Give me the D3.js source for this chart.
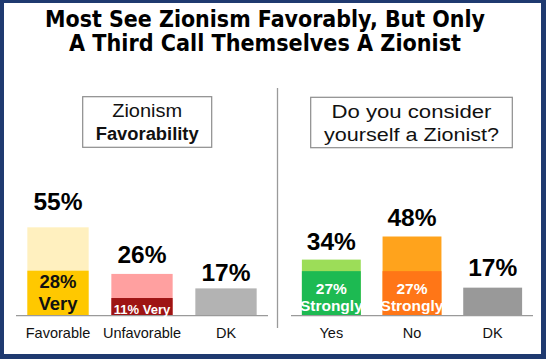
<!DOCTYPE html>
<html>
<head>
<meta charset="utf-8">
<script src="https://cdn.jsdelivr.net/npm/d3@7"></script>
<style>
  html, body { margin: 0; padding: 0; background: #fff; }
  svg { display: block; }
</style>
</head>
<body>
<script>
// ---- data ----
const titleLines = ["Most See Zionism Favorably, But Only", "A Third Call Themselves A Zionist"];

const favTitle = ["Zionism", "Favorability"];
const favCategories = ["Favorable", "Unfavorable", "DK"];
const favTotals = [55, 26, 17];
const favStrong = [28, 11, null];
const favStrongLabels = [["28%", "Very"], ["11% Very"], null];

const zioTitle = ["Do you consider", "yourself a Zionist?"];
const zioCategories = ["Yes", "No", "DK"];
const zioTotals = [34, 48, 17];
const zioStrong = [27, 27, null];
const zioStrongLabels = [["27%", "Strongly"], ["27%", "Strongly"], null];

// ---- styles ----
const W = 546, H = 359;
const navy = "#1f3a70";
const favLight = ["#fff0bf", "#ffa0a0", "#b3b3b3"];
const favDark = ["#ffc800", "#9e1414", null];
const favInnerText = ["#111", "#fff", null];
const zioLight = ["#9cdd58", "#ffa31c", "#999999"];
const zioDark = ["#1dba52", "#ff7617", null];
const zioInnerText = ["#fff", "#fff", null];

const svg = d3.select("body").append("svg").attr("width", W).attr("height", H);

// frame
svg.append("rect").attr("x", 0).attr("y", 0).attr("width", W).attr("height", H).attr("fill", navy);
svg.append("rect").attr("x", 4).attr("y", 3).attr("width", 537).attr("height", 351).attr("fill", "#fff");

// title
const titleFont = "'DejaVu Sans', Verdana, sans-serif";
const titleWidths = [440, 392];
titleLines.forEach((t, i) => {
  svg.append("text")
    .attr("x", 265).attr("y", 27 + i * 24)
    .attr("text-anchor", "middle")
    .attr("font-family", titleFont)
    .attr("font-weight", "bold")
    .attr("font-size", 22.5)
    .attr("textLength", titleWidths[i])
    .attr("lengthAdjust", "spacingAndGlyphs")
    .attr("fill", "#000")
    .text(t);
});

// divider
svg.append("line")
  .attr("x1", 277.5).attr("x2", 277.5).attr("y1", 88).attr("y2", 328)
  .attr("stroke", "#9a9a9a").attr("stroke-width", 1.3);

const sans = "'Liberation Sans', Arial, Helvetica, sans-serif";

function panel(opts) {
  const g = svg.append("g");
  const x = d3.scaleBand().domain(opts.categories).range(opts.xRange)
    .paddingInner(0.27).paddingOuter(0.135);
  const y = d3.scaleLinear().domain([0, 100]).range([opts.base, opts.base - 100 * opts.pxPer]);

  // title box
  const b = opts.box;
  g.append("rect").attr("x", b.x).attr("y", b.y).attr("width", b.w).attr("height", b.h)
    .attr("fill", "#fff").attr("stroke", "#8c8c8c").attr("stroke-width", 1.2);
  opts.title.forEach((t, i) => {
    g.append("text")
      .attr("x", b.x + b.w / 2).attr("y", b.y + 20.5 + i * 22.8)
      .attr("text-anchor", "middle")
      .attr("font-family", sans)
      .attr("font-size", 18)
      .attr("font-weight", opts.titleBold[i] ? "bold" : "normal")
      .attr("textLength", opts.titleWidths[i])
      .attr("lengthAdjust", "spacingAndGlyphs")
      .attr("fill", "#111")
      .text(t);
  });

  // full bars
  g.selectAll("rect.total").data(opts.categories).join("rect")
    .attr("class", "total")
    .attr("x", d => x(d))
    .attr("width", x.bandwidth())
    .attr("y", (d, i) => y(opts.totals[i]))
    .attr("height", (d, i) => y(0) - y(opts.totals[i]))
    .attr("fill", (d, i) => opts.light[i]);

  // strong bars
  const strongIdx = opts.strong.map((v, i) => i).filter(i => opts.strong[i] != null);
  g.selectAll("rect.strong").data(strongIdx).join("rect")
    .attr("class", "strong")
    .attr("x", i => x(opts.categories[i]))
    .attr("width", x.bandwidth())
    .attr("y", i => y(opts.strong[i]))
    .attr("height", i => y(0) - y(opts.strong[i]))
    .attr("fill", i => opts.dark[i]);

  // baseline axis
  g.append("line").attr("x1", opts.xRange[0]).attr("x2", opts.xRange[1])
    .attr("y1", opts.base).attr("y2", opts.base)
    .attr("stroke", "#9a9a9a").attr("stroke-width", 1.2);

  // total labels
  g.selectAll("text.total").data(opts.categories).join("text")
    .attr("class", "total")
    .attr("x", d => x(d) + x.bandwidth() / 2)
    .attr("y", (d, i) => y(opts.totals[i]) - opts.labelGap[i])
    .attr("text-anchor", "middle")
    .attr("font-family", sans).attr("font-weight", "bold").attr("font-size", 24.5)
    .attr("fill", "#000")
    .text((d, i) => opts.totals[i] + "%");

  // inner labels
  strongIdx.forEach(i => {
    const lines = opts.strongLabels[i];
    const cx = x(opts.categories[i]) + x.bandwidth() / 2;
    const fs = lines.length === 1 ? opts.innerSmall : opts.innerSize;
    const lh = opts.innerLine;
    lines.forEach((t, k) => {
      const fromBottom = lines.length - 1 - k;
      g.append("text")
        .attr("x", cx)
        .attr("y", lines.length === 1 ? opts.base - 2 : opts.base - opts.innerBottom - fromBottom * lh)
        .attr("text-anchor", "middle")
        .attr("font-family", sans).attr("font-weight", "bold").attr("font-size", fs)
        .attr("fill", opts.innerText[i])
        .text(t);
    });
  });

  // category labels
  g.selectAll("text.cat").data(opts.categories).join("text")
    .attr("class", "cat")
    .attr("x", d => x(d) + x.bandwidth() / 2)
    .attr("y", opts.base + 22.5)
    .attr("text-anchor", "middle")
    .attr("font-family", sans).attr("font-size", 14.5)
    .attr("fill", "#111")
    .text(d => d);
}

panel({
  categories: favCategories, totals: favTotals, strong: favStrong, strongLabels: favStrongLabels,
  light: favLight, dark: favDark, innerText: favInnerText,
  xRange: [16, 268], base: 315.7, pxPer: 1.607,
  box: { x: 82.7, y: 96.7, w: 129, h: 50.6 },
  title: favTitle, titleBold: [false, true], titleWidths: [70, 103],
  labelGap: [17, 10.5, 7], innerSize: 18.5, innerSmall: 13, innerLine: 22.5, innerBottom: 5.7
});

panel({
  categories: zioCategories, totals: zioTotals, strong: zioStrong, strongLabels: zioStrongLabels,
  light: zioLight, dark: zioDark, innerText: zioInnerText,
  xRange: [291, 533], base: 315.7, pxPer: 1.65,
  box: { x: 310.7, y: 97.3, w: 201.6, h: 50.4 },
  title: zioTitle, titleBold: [false, false], titleWidths: [160, 175],
  labelGap: [10, 10.7, 11.7], innerSize: 15.5, innerSmall: 13, innerLine: 16.7, innerBottom: 5
});
</script>
</body>
</html>
